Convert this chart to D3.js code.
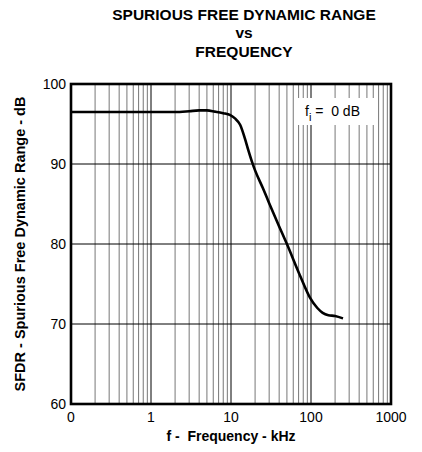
<!DOCTYPE html>
<html>
<head>
<meta charset="utf-8">
<script src="https://cdn.jsdelivr.net/npm/d3@7"></script>
<style>
  body { margin: 0; background: #fff; }
  svg text { font-family: "Liberation Sans", Arial, sans-serif; fill: #000; }
</style>
</head>
<body>
<div id="chart"></div>
<script>
// curve (frequency in kHz, SFDR in dB)
const freq = [0.1, 1, 2, 3, 4, 5, 6.3, 8, 9.8, 11.2, 13, 14.9, 16.5, 18.4, 20, 25, 30, 40, 50, 72.6, 97, 120, 140, 165, 200, 251];
const sfdr = [96.5, 96.5, 96.5, 96.6, 96.7, 96.7, 96.55, 96.35, 96.1, 95.7, 94.9, 93.2, 91.7, 90.2, 89.2, 87.0, 85.1, 82.2, 80.0, 76.1, 73.3, 72.0, 71.4, 71.1, 71.0, 70.7];
const xDecades = [0.1, 1, 10, 100, 1000];
const xTickLabels = ["0", "1", "10", "100", "1000"];
const yTicks = [60, 70, 80, 90, 100];
const titleLines = ["SPURIOUS FREE DYNAMIC RANGE", "vs", "FREQUENCY"];

const width = 422, height = 452;
const plot = { left: 71, right: 391, top: 84, bottom: 404 };

const svg = d3.select("#chart").append("svg")
  .attr("width", width)
  .attr("height", height);

const x = d3.scaleLog().domain([0.1, 1000]).range([plot.left, plot.right]);
const y = d3.scaleLinear().domain([60, 100]).range([plot.bottom, plot.top]);

// minor vertical grid (2..9 of every decade)
const minor = [];
xDecades.slice(0, -1).forEach(d => {
  for (let k = 2; k <= 9; k++) minor.push(d * k);
});
svg.append("g").selectAll("line")
  .data(minor)
  .join("line")
  .attr("x1", d => x(d)).attr("x2", d => x(d))
  .attr("y1", plot.top).attr("y2", plot.bottom)
  .attr("stroke", "#777")
  .attr("stroke-width", 1);

// decade lines
svg.append("g").selectAll("line")
  .data(xDecades.slice(1, -1))
  .join("line")
  .attr("x1", d => x(d)).attr("x2", d => x(d))
  .attr("y1", plot.top).attr("y2", plot.bottom)
  .attr("stroke", "#000")
  .attr("stroke-width", 1);

// horizontal grid
svg.append("g").selectAll("line")
  .data(yTicks.slice(1, -1))
  .join("line")
  .attr("x1", plot.left).attr("x2", plot.right)
  .attr("y1", d => y(d)).attr("y2", d => y(d))
  .attr("stroke", "#000")
  .attr("stroke-width", 1);

// legend box
const lg = svg.append("g");
lg.append("rect")
  .attr("x", 295).attr("y", 98)
  .attr("width", 81).attr("height", 27)
  .attr("fill", "#fff");
const lt = lg.append("text")
  .attr("x", 305).attr("y", 116)
  .attr("font-size", 14);
lt.append("tspan").text("f");
lt.append("tspan").attr("dy", 5).attr("font-size", 11).text("i");
lt.append("tspan").attr("dy", -5).text(" =  0 dB").attr("xml:space", "preserve");

// curve
const line = d3.line()
  .x(d => x(d[0]))
  .y(d => y(d[1]))
  .curve(d3.curveMonotoneX);
svg.append("path")
  .datum(d3.zip(freq, sfdr))
  .attr("d", line)
  .attr("fill", "none")
  .attr("stroke", "#000")
  .attr("stroke-width", 2.6)
  .attr("stroke-linejoin", "round");

// frame
svg.append("rect")
  .attr("x", plot.left).attr("y", plot.top)
  .attr("width", plot.right - plot.left)
  .attr("height", plot.bottom - plot.top)
  .attr("fill", "none")
  .attr("stroke", "#000")
  .attr("stroke-width", 2.6);

// tick labels
svg.append("g").selectAll("text")
  .data(yTicks)
  .join("text")
  .attr("x", plot.left - 5)
  .attr("y", d => y(d) + 5)
  .attr("text-anchor", "end")
  .attr("font-size", 14)
  .text(d => d);

svg.append("g").selectAll("text")
  .data(xDecades)
  .join("text")
  .attr("x", d => x(d))
  .attr("y", 422)
  .attr("text-anchor", "middle")
  .attr("font-size", 14)
  .text((d, i) => xTickLabels[i]);

// titles
svg.append("g").selectAll("text")
  .data(titleLines)
  .join("text")
  .attr("x", 244)
  .attr("y", (d, i) => [20, 38, 57][i])
  .attr("text-anchor", "middle")
  .attr("font-size", 15.5)
  .attr("font-weight", "bold")
  .text(d => d);

svg.append("text")
  .attr("x", 231).attr("y", 441)
  .attr("text-anchor", "middle")
  .attr("font-size", 14)
  .attr("font-weight", "bold")
  .attr("xml:space", "preserve")
  .text("f -  Frequency - kHz");

svg.append("text")
  .attr("transform", `translate(25,${(plot.top + plot.bottom) / 2}) rotate(-90)`)
  .attr("text-anchor", "middle")
  .attr("font-size", 14.5)
  .attr("font-weight", "bold")
  .text("SFDR - Spurious Free Dynamic Range - dB");
</script>
</body>
</html>
